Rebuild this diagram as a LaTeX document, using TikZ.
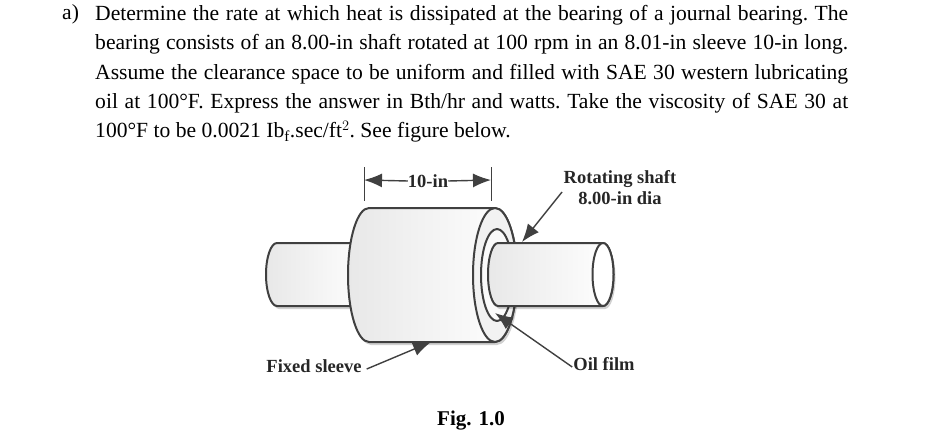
\documentclass[tikz,border=0pt]{standalone}
\usepackage{fontspec}
\setmainfont{Liberation Serif}
\usetikzlibrary{arrows.meta, shadows}
\definecolor{ink}{HTML}{404040}
\tikzset{
    part/.style={draw=ink, line width=2pt, line join=round},
    body/.style={part, left color=black!9, right color=white, shading angle=90,
        drop shadow={shadow xshift=2pt, shadow yshift=-3pt, opacity=.18, fill=black}},
    pointer/.style={draw=ink, fill=ink, line width=1.4pt, -{Latex[length=18pt, width=14pt]}},
    dimline/.style={draw=ink, line width=.8pt},
    label/.style={font=\bfseries\fontsize{18.5}{21}\selectfont, text=black!85, inner sep=0pt, align=center},
}
\begin{document}
\begin{tikzpicture}[x=1pt, y=1pt]
    \useasboundingbox (0,0) rectangle (950,432);

    \node[anchor=north west, inner sep=0pt, text width=753pt, align=justify,
        font=\fontsize{21.6}{29.3}\selectfont\frenchspacing] (problem) at (95,427)
        {Determine the rate at which heat is dissipated at the bearing of a journal bearing. The\linebreak
        bearing consists of an 8.00-in shaft rotated at 100 rpm in an 8.01-in sleeve 10-in long.\linebreak
        Assume the clearance space to be uniform and filled with SAE 30 western lubricating\linebreak
        oil at 100°F. Express the answer in Bth/hr and watts. Take the viscosity of SAE 30 at\linebreak
        100°F to be 0.0021 Ib$_{\mathrm{f}}$.sec/ft$^{2}$. See figure below.};
    \node[anchor=base west, inner sep=0pt, font=\fontsize{21.6}{29.3}\selectfont] (item) at (62,412.5) {a)};

    \coordinate (dimL) at (364,265);
    \coordinate (dimLb) at (364,231);
    \coordinate (dimR) at (491,265);
    \coordinate (dimRb) at (491,231);
    \coordinate (dimLm) at (364,252);
    \coordinate (dimRm) at (491,252);
    \coordinate (shaftTip) at (522,190);
    \coordinate (sleeveTip) at (431,90);
    \coordinate (oilTip) at (495,119);

    % shaft, left end
    \path[body] (370,189) -- (277,189) arc[start angle=90, end angle=270, x radius=11, y radius=31.5] -- (370,126) -- cycle;
    % sleeve
    \path[body] (495,224) -- (369,224) arc[start angle=90, end angle=270, x radius=21, y radius=67]
        -- (495,90) arc[start angle=-90, end angle=90, x radius=22, y radius=67];
    \path[part, fill=black!5] (495,157) ellipse[x radius=22, y radius=67];
    \path[part, fill=black!2] (497,157) ellipse[x radius=16, y radius=46];
    % shaft, right end
    \path[body] (603,189) -- (498,189) arc[start angle=90, end angle=270, x radius=10, y radius=31.5]
        -- (603,126) arc[start angle=-90, end angle=90, x radius=10.5, y radius=31.5];
    \path[part, fill=white] (603,157.5) ellipse[x radius=10.5, y radius=31.5];

    \node[label] (dimtext) at (428,251) {10-in};
    \draw[dimline] (dimL) -- (dimLb);
    \draw[dimline] (dimR) -- (dimRb);
    \draw[pointer] (dimtext.west) -- (dimLm);
    \draw[pointer] (dimtext.east) -- (dimRm);

    \node[label] (shaftlabel) at (620,244.5) {Rotating shaft\\8.00-in dia};
    \node[label] (sleevelabel) at (314,66) {Fixed sleeve};
    \node[label] (oillabel) at (604,68) {Oil film};
    \node[label, font=\bfseries\fontsize{21}{24}\selectfont, text=black] (figlabel) at (471,11) {Fig. 1.0};

    \draw[pointer] (shaftlabel.west) ++(-1.5,-4.5) coordinate (shaftFrom) (shaftFrom) -- (shaftTip);
    \draw[pointer] (sleevelabel.east) ++(5,-3) coordinate (sleeveFrom) (sleeveFrom) -- (sleeveTip);
    \draw[pointer] (oillabel.west) ++(-1,-3) coordinate (oilFrom) (oilFrom) -- (oilTip);
\end{tikzpicture}
\end{document}
